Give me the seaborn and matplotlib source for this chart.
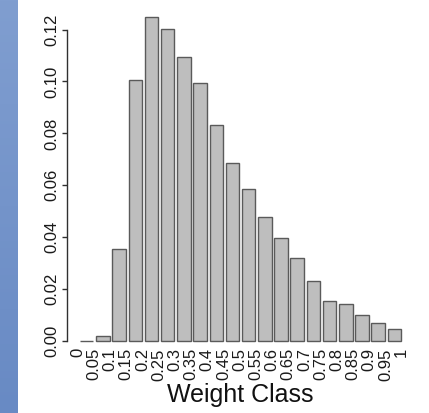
import numpy as np
import pandas as pd
import matplotlib
matplotlib.use("Agg")
import matplotlib.pyplot as plt
import seaborn as sns

# Histogram breaks (tick labels) and relative frequency of each weight bin
breaks = ["0", "0.05", "0.1", "0.15", "0.2", "0.25", "0.3", "0.35", "0.4", "0.45",
          "0.5", "0.55", "0.6", "0.65", "0.7", "0.75", "0.8", "0.85", "0.9", "0.95", "1"]
freq = [0.0, 0.002, 0.0353, 0.1006, 0.1247, 0.1201, 0.1094, 0.0994, 0.0834, 0.0687,
        0.0586, 0.0479, 0.0398, 0.0320, 0.0231, 0.0154, 0.0141, 0.0100, 0.0068, 0.0045]
yticks = [0.00, 0.02, 0.04, 0.06, 0.08, 0.10, 0.12]

df = pd.DataFrame({"bin": breaks[:-1], "freq": freq})

sns.set_style("white")
plt.rcParams["font.family"] = ["Liberation Sans", "DejaVu Sans"]

W, H = 429, 413
fig = plt.figure(figsize=(W / 100, H / 100), dpi=100)
fig.patch.set_facecolor("white")

# blue slide band at the left edge
band = fig.add_axes([0, 0, 17.7 / W, 1])
grad = np.linspace(0, 1, 256)[:, None]
top = np.array([128, 158, 208]) / 255
bot = np.array([104, 138, 196]) / 255
img = top[None, None, :] * (1 - grad[..., None]) + bot[None, None, :] * grad[..., None]
band.imshow(img, aspect="auto", extent=[0, 1, 0, 1])
band.set_axis_off()

left_px, right_px = 67.1, 414.0
top_px, bot_px = 4.4, 347.5
ax = fig.add_axes([left_px / W, 1 - bot_px / H,
                   (right_px - left_px) / W, (bot_px - top_px) / H])

sns.barplot(data=df, x="bin", y="freq", order=breaks[:-1], color="#BEBEBE",
            saturation=1, width=1 / 1.2, edgecolor="#5a5a5a", linewidth=1.0, ax=ax)

ax.set_xlim(-1.21, 20.21)
ax.set_ylim(-0.0025, 0.1297)

for s in ["top", "right", "bottom"]:
    ax.spines[s].set_visible(False)
ax.spines["left"].set_bounds(0, 0.12)
ax.spines["left"].set_color("#303030")
ax.spines["left"].set_linewidth(1.0)

ax.set_yticks(yticks)
ax.set_yticklabels([f"{v:.2f}" for v in yticks], rotation=90, va="center",
                   fontsize=12, color="#1a1a1a")
ax.tick_params(axis="y", length=3.6, width=1.0, color="#303030", pad=2.0, left=True)

ax.set_xticks(np.arange(len(breaks)) - 0.55)
ax.set_xticklabels(breaks, rotation=90, ha="center", va="top",
                   fontsize=12, color="#1a1a1a")
ax.tick_params(axis="x", length=0, pad=0.5)

ax.set_xlabel("")
ax.set_ylabel("")
fig.text(240.5 / W, 1 - 402 / H, "Weight Class", ha="center", va="baseline",
         fontsize=18, color="#111111")

fig.savefig("out.png", dpi=100, facecolor="white")
